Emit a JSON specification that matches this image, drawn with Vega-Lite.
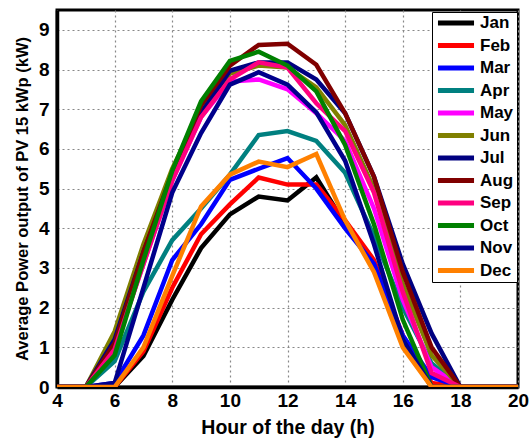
{
  "$schema": "https://vega.github.io/schema/vega-lite/v6.json",
  "width": 461,
  "height": 377,
  "autosize": {"type": "none"},
  "padding": {"left": 57, "top": 10, "right": 12, "bottom": 51},
  "background": "white",
  "config": {
    "font": "Liberation Sans",
    "view": {"stroke": "black", "strokeWidth": 3},
    "axis": {
      "labelFont": "Liberation Sans",
      "labelFontWeight": "bold",
      "labelFontSize": 19,
      "labelColor": "black",
      "titleFont": "Liberation Sans",
      "titleFontWeight": "bold",
      "titleColor": "black",
      "domainColor": "black",
      "domainWidth": 3.5,
      "ticks": false,
      "gridColor": "#888888",
      "gridDash": [2, 3],
      "gridWidth": 1.2
    }
  },
  "data": {
    "values": [
      {"month": "Jan", "hour": 4, "power": 0}, {"month": "Jan", "hour": 5, "power": 0}, {"month": "Jan", "hour": 6, "power": 0}, {"month": "Jan", "hour": 7, "power": 0.78}, {"month": "Jan", "hour": 8, "power": 2.2}, {"month": "Jan", "hour": 9, "power": 3.5}, {"month": "Jan", "hour": 10, "power": 4.35}, {"month": "Jan", "hour": 11, "power": 4.8}, {"month": "Jan", "hour": 12, "power": 4.7}, {"month": "Jan", "hour": 13, "power": 5.28}, {"month": "Jan", "hour": 14, "power": 4.1}, {"month": "Jan", "hour": 15, "power": 3.1}, {"month": "Jan", "hour": 16, "power": 1.15}, {"month": "Jan", "hour": 17, "power": 0}, {"month": "Jan", "hour": 18, "power": 0}, {"month": "Jan", "hour": 19, "power": 0}, {"month": "Jan", "hour": 20, "power": 0},
      {"month": "Feb", "hour": 4, "power": 0}, {"month": "Feb", "hour": 5, "power": 0}, {"month": "Feb", "hour": 6, "power": 0}, {"month": "Feb", "hour": 7, "power": 0.9}, {"month": "Feb", "hour": 8, "power": 2.5}, {"month": "Feb", "hour": 9, "power": 3.85}, {"month": "Feb", "hour": 10, "power": 4.6}, {"month": "Feb", "hour": 11, "power": 5.28}, {"month": "Feb", "hour": 12, "power": 5.1}, {"month": "Feb", "hour": 13, "power": 5.1}, {"month": "Feb", "hour": 14, "power": 4.2}, {"month": "Feb", "hour": 15, "power": 3.2}, {"month": "Feb", "hour": 16, "power": 1.3}, {"month": "Feb", "hour": 17, "power": 0.1}, {"month": "Feb", "hour": 18, "power": 0}, {"month": "Feb", "hour": 19, "power": 0}, {"month": "Feb", "hour": 20, "power": 0},
      {"month": "Mar", "hour": 4, "power": 0}, {"month": "Mar", "hour": 5, "power": 0}, {"month": "Mar", "hour": 6, "power": 0.1}, {"month": "Mar", "hour": 7, "power": 1.3}, {"month": "Mar", "hour": 8, "power": 3.2}, {"month": "Mar", "hour": 9, "power": 4.1}, {"month": "Mar", "hour": 10, "power": 5.22}, {"month": "Mar", "hour": 11, "power": 5.5}, {"month": "Mar", "hour": 12, "power": 5.77}, {"month": "Mar", "hour": 13, "power": 5.0}, {"month": "Mar", "hour": 14, "power": 4.0}, {"month": "Mar", "hour": 15, "power": 3.1}, {"month": "Mar", "hour": 16, "power": 1.3}, {"month": "Mar", "hour": 17, "power": 0.25}, {"month": "Mar", "hour": 18, "power": 0}, {"month": "Mar", "hour": 19, "power": 0}, {"month": "Mar", "hour": 20, "power": 0},
      {"month": "Apr", "hour": 4, "power": 0}, {"month": "Apr", "hour": 5, "power": 0}, {"month": "Apr", "hour": 6, "power": 0.65}, {"month": "Apr", "hour": 7, "power": 2.4}, {"month": "Apr", "hour": 8, "power": 3.7}, {"month": "Apr", "hour": 9, "power": 4.5}, {"month": "Apr", "hour": 10, "power": 5.35}, {"month": "Apr", "hour": 11, "power": 6.35}, {"month": "Apr", "hour": 12, "power": 6.45}, {"month": "Apr", "hour": 13, "power": 6.2}, {"month": "Apr", "hour": 14, "power": 5.4}, {"month": "Apr", "hour": 15, "power": 3.8}, {"month": "Apr", "hour": 16, "power": 2.0}, {"month": "Apr", "hour": 17, "power": 0.6}, {"month": "Apr", "hour": 18, "power": 0}, {"month": "Apr", "hour": 19, "power": 0}, {"month": "Apr", "hour": 20, "power": 0},
      {"month": "May", "hour": 4, "power": 0}, {"month": "May", "hour": 5, "power": 0}, {"month": "May", "hour": 6, "power": 1.0}, {"month": "May", "hour": 7, "power": 3.1}, {"month": "May", "hour": 8, "power": 5.2}, {"month": "May", "hour": 9, "power": 6.8}, {"month": "May", "hour": 10, "power": 7.7}, {"month": "May", "hour": 11, "power": 7.75}, {"month": "May", "hour": 12, "power": 7.5}, {"month": "May", "hour": 13, "power": 6.9}, {"month": "May", "hour": 14, "power": 6.2}, {"month": "May", "hour": 15, "power": 4.5}, {"month": "May", "hour": 16, "power": 2.2}, {"month": "May", "hour": 17, "power": 0.5}, {"month": "May", "hour": 18, "power": 0}, {"month": "May", "hour": 19, "power": 0}, {"month": "May", "hour": 20, "power": 0},
      {"month": "Jun", "hour": 4, "power": 0}, {"month": "Jun", "hour": 5, "power": 0}, {"month": "Jun", "hour": 6, "power": 1.4}, {"month": "Jun", "hour": 7, "power": 3.6}, {"month": "Jun", "hour": 8, "power": 5.5}, {"month": "Jun", "hour": 9, "power": 7.0}, {"month": "Jun", "hour": 10, "power": 7.9}, {"month": "Jun", "hour": 11, "power": 8.1}, {"month": "Jun", "hour": 12, "power": 8.05}, {"month": "Jun", "hour": 13, "power": 7.55}, {"month": "Jun", "hour": 14, "power": 6.6}, {"month": "Jun", "hour": 15, "power": 5.0}, {"month": "Jun", "hour": 16, "power": 2.6}, {"month": "Jun", "hour": 17, "power": 0.8}, {"month": "Jun", "hour": 18, "power": 0}, {"month": "Jun", "hour": 19, "power": 0}, {"month": "Jun", "hour": 20, "power": 0},
      {"month": "Jul", "hour": 4, "power": 0}, {"month": "Jul", "hour": 5, "power": 0}, {"month": "Jul", "hour": 6, "power": 1.2}, {"month": "Jul", "hour": 7, "power": 3.4}, {"month": "Jul", "hour": 8, "power": 5.3}, {"month": "Jul", "hour": 9, "power": 6.9}, {"month": "Jul", "hour": 10, "power": 7.97}, {"month": "Jul", "hour": 11, "power": 8.18}, {"month": "Jul", "hour": 12, "power": 8.18}, {"month": "Jul", "hour": 13, "power": 7.75}, {"month": "Jul", "hour": 14, "power": 6.9}, {"month": "Jul", "hour": 15, "power": 5.3}, {"month": "Jul", "hour": 16, "power": 3.1}, {"month": "Jul", "hour": 17, "power": 1.35}, {"month": "Jul", "hour": 18, "power": 0}, {"month": "Jul", "hour": 19, "power": 0}, {"month": "Jul", "hour": 20, "power": 0},
      {"month": "Aug", "hour": 4, "power": 0}, {"month": "Aug", "hour": 5, "power": 0}, {"month": "Aug", "hour": 6, "power": 1.1}, {"month": "Aug", "hour": 7, "power": 3.4}, {"month": "Aug", "hour": 8, "power": 5.4}, {"month": "Aug", "hour": 9, "power": 7.1}, {"month": "Aug", "hour": 10, "power": 8.1}, {"month": "Aug", "hour": 11, "power": 8.62}, {"month": "Aug", "hour": 12, "power": 8.65}, {"month": "Aug", "hour": 13, "power": 8.12}, {"month": "Aug", "hour": 14, "power": 6.9}, {"month": "Aug", "hour": 15, "power": 5.3}, {"month": "Aug", "hour": 16, "power": 2.9}, {"month": "Aug", "hour": 17, "power": 1.0}, {"month": "Aug", "hour": 18, "power": 0}, {"month": "Aug", "hour": 19, "power": 0}, {"month": "Aug", "hour": 20, "power": 0},
      {"month": "Sep", "hour": 4, "power": 0}, {"month": "Sep", "hour": 5, "power": 0}, {"month": "Sep", "hour": 6, "power": 0.95}, {"month": "Sep", "hour": 7, "power": 3.1}, {"month": "Sep", "hour": 8, "power": 5.2}, {"month": "Sep", "hour": 9, "power": 6.8}, {"month": "Sep", "hour": 10, "power": 7.75}, {"month": "Sep", "hour": 11, "power": 8.18}, {"month": "Sep", "hour": 12, "power": 8.05}, {"month": "Sep", "hour": 13, "power": 7.15}, {"month": "Sep", "hour": 14, "power": 6.45}, {"month": "Sep", "hour": 15, "power": 4.9}, {"month": "Sep", "hour": 16, "power": 2.4}, {"month": "Sep", "hour": 17, "power": 0.35}, {"month": "Sep", "hour": 18, "power": 0}, {"month": "Sep", "hour": 19, "power": 0}, {"month": "Sep", "hour": 20, "power": 0},
      {"month": "Oct", "hour": 4, "power": 0}, {"month": "Oct", "hour": 5, "power": 0}, {"month": "Oct", "hour": 6, "power": 0.8}, {"month": "Oct", "hour": 7, "power": 3.2}, {"month": "Oct", "hour": 8, "power": 5.45}, {"month": "Oct", "hour": 9, "power": 7.2}, {"month": "Oct", "hour": 10, "power": 8.22}, {"month": "Oct", "hour": 11, "power": 8.45}, {"month": "Oct", "hour": 12, "power": 8.1}, {"month": "Oct", "hour": 13, "power": 7.45}, {"month": "Oct", "hour": 14, "power": 6.1}, {"month": "Oct", "hour": 15, "power": 4.1}, {"month": "Oct", "hour": 16, "power": 1.7}, {"month": "Oct", "hour": 17, "power": 0}, {"month": "Oct", "hour": 18, "power": 0}, {"month": "Oct", "hour": 19, "power": 0}, {"month": "Oct", "hour": 20, "power": 0},
      {"month": "Nov", "hour": 4, "power": 0}, {"month": "Nov", "hour": 5, "power": 0}, {"month": "Nov", "hour": 6, "power": 0.1}, {"month": "Nov", "hour": 7, "power": 2.5}, {"month": "Nov", "hour": 8, "power": 4.9}, {"month": "Nov", "hour": 9, "power": 6.4}, {"month": "Nov", "hour": 10, "power": 7.62}, {"month": "Nov", "hour": 11, "power": 7.93}, {"month": "Nov", "hour": 12, "power": 7.62}, {"month": "Nov", "hour": 13, "power": 6.92}, {"month": "Nov", "hour": 14, "power": 5.7}, {"month": "Nov", "hour": 15, "power": 3.6}, {"month": "Nov", "hour": 16, "power": 1.2}, {"month": "Nov", "hour": 17, "power": 0}, {"month": "Nov", "hour": 18, "power": 0}, {"month": "Nov", "hour": 19, "power": 0}, {"month": "Nov", "hour": 20, "power": 0},
      {"month": "Dec", "hour": 4, "power": 0}, {"month": "Dec", "hour": 5, "power": 0}, {"month": "Dec", "hour": 6, "power": 0}, {"month": "Dec", "hour": 7, "power": 1.0}, {"month": "Dec", "hour": 8, "power": 2.8}, {"month": "Dec", "hour": 9, "power": 4.55}, {"month": "Dec", "hour": 10, "power": 5.35}, {"month": "Dec", "hour": 11, "power": 5.68}, {"month": "Dec", "hour": 12, "power": 5.54}, {"month": "Dec", "hour": 13, "power": 5.87}, {"month": "Dec", "hour": 14, "power": 4.2}, {"month": "Dec", "hour": 15, "power": 2.9}, {"month": "Dec", "hour": 16, "power": 1.0}, {"month": "Dec", "hour": 17, "power": 0}, {"month": "Dec", "hour": 18, "power": 0}, {"month": "Dec", "hour": 19, "power": 0}, {"month": "Dec", "hour": 20, "power": 0}
    ]
  },
  "mark": {"type": "line", "strokeWidth": 4.5, "strokeJoin": "miter", "clip": true},
  "encoding": {
    "x": {
      "field": "hour",
      "type": "quantitative",
      "scale": {"domain": [4, 20], "nice": false},
      "axis": {
        "values": [4, 6, 8, 10, 12, 14, 16, 18, 20],
        "title": "Hour of the day (h)",
        "titleFontSize": 19.5,
        "titlePadding": 8,
        "labelPadding": 4,
        "labelFlush": false
      }
    },
    "y": {
      "field": "power",
      "type": "quantitative",
      "scale": {"domain": [0, 9.5], "nice": false},
      "axis": {
        "values": [0, 1, 2, 3, 4, 5, 6, 7, 8, 9],
        "title": "Average Power output of PV 15 kWp (kW)",
        "titleFontSize": 16.5,
        "titlePadding": 8,
        "labelPadding": 8
      }
    },
    "color": {
      "field": "month",
      "type": "nominal",
      "sort": null,
      "scale": {
        "domain": ["Jan", "Feb", "Mar", "Apr", "May", "Jun", "Jul", "Aug", "Sep", "Oct", "Nov", "Dec"],
        "range": ["#000000", "#ff0000", "#0000ff", "#008080", "#ff00ff", "#808000", "#000080", "#800000", "#ff0080", "#008000", "#00008b", "#ff8000"]
      },
      "legend": {
        "title": null,
        "orient": "none",
        "legendX": 375,
        "legendY": 2,
        "fillColor": "white",
        "strokeColor": "black",
        "padding": 3,
        "symbolType": "stroke",
        "symbolSize": 1300,
        "symbolStrokeWidth": 5,
        "clipHeight": 16,
        "rowPadding": 5.5,
        "labelFont": "Liberation Sans",
        "labelFontWeight": "bold",
        "labelFontSize": 17,
        "labelColor": "black",
        "labelOffset": 3
      }
    }
  }
}
